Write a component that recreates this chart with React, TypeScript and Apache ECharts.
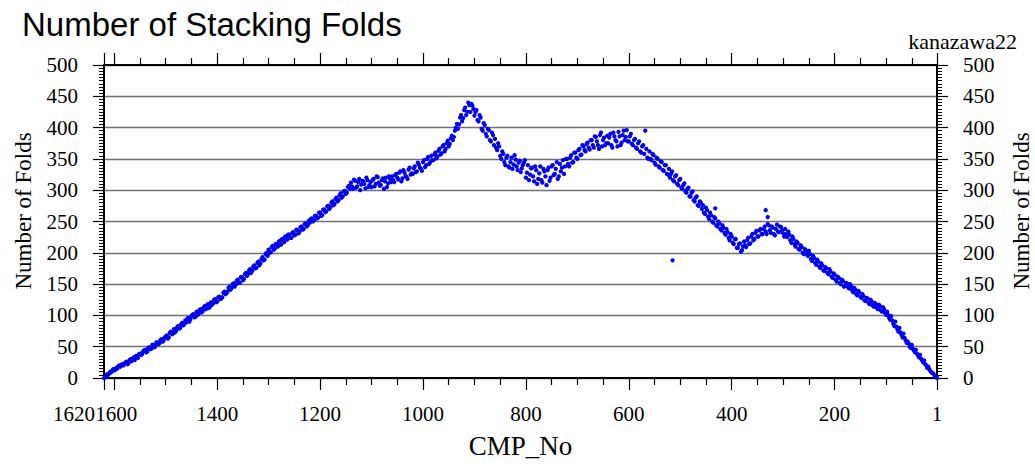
import React, { useEffect, useRef } from "react";
import * as echarts from "echarts";

// ---- data (CMP number -> stacking fold), two interleaved readings ----
const STEP = 4;

const risingStart = 1620;
const risingFolds = [
  0, 3, 5, 10, 12, 12, 16, 19, 18, 22,
  23, 26, 24, 30, 31, 29, 35, 38, 37, 42,
  45, 42, 49, 47, 53, 51, 57, 56, 62, 60,
  66, 63, 72, 70, 78, 75, 83, 80, 88, 86,
  89, 96, 94, 101, 97, 106, 103, 110, 107, 115,
  116, 112, 121, 119, 126, 122, 130, 127, 136, 134,
  138, 146, 144, 151, 149, 157, 152, 161, 158, 168,
  166, 174, 171, 180, 176, 186, 183, 193, 189, 200,
  205, 201, 211, 207, 214, 218, 213, 222, 226, 221,
  229, 224, 233, 229, 236, 234, 242, 238, 247, 244,
  248, 255, 252, 259, 256, 264, 260, 269, 266, 275,
  273, 282, 278, 288, 284, 295, 290, 299, 296, 307,
];
const risingStartB = 1618;
const risingFoldsB = [
  1, 6, 7, 9, 14, 13, 15, 20, 21, 20,
  25, 22, 29, 27, 33, 35, 32, 39, 38, 44,
  41, 48, 46, 53, 49, 57, 54, 61, 58, 65,
  68, 65, 74, 71, 73, 81, 79, 86, 84, 92,
  95, 90, 99, 102, 98, 101, 109, 105, 113, 110,
  118, 114, 117, 125, 121, 129, 126, 129, 138, 135,
  144, 141, 150, 146, 155, 152, 161, 156, 166, 163,
  172, 168, 178, 175, 184, 180, 190, 188, 198, 195,
  200, 209, 205, 214, 210, 219, 222, 217, 226, 229,
  224, 232, 228, 237, 231, 241, 237, 246, 242, 251,
  254, 250, 259, 255, 264, 259, 269, 265, 274, 270,
  280, 276, 286, 282, 292, 288, 298, 294, 305, 302,
];

const peakStart = 1140;
const peakFolds = [
  312, 302, 315, 306, 318, 309, 314, 303, 316, 308,
  305, 318, 310, 321, 307, 316, 302, 320, 311, 318,
  322, 313, 326, 317, 330, 319, 328, 321, 333, 325,
  326, 338, 330, 341, 334, 345, 337, 350, 342, 355,
  348, 360, 354, 366, 359, 372, 366, 379, 374, 387,
  385, 400, 398, 416, 410, 428, 420, 440, 425, 435,
  419, 428, 410, 416, 395, 404, 386, 396, 378, 388,
  382, 364, 370, 350, 358,
];
const peakStartB = 1138;
const peakFoldsB = [
  306, 317, 304, 313, 300, 315, 310, 320, 305, 313,
  316, 306, 322, 312, 308, 319, 314, 305, 322, 313,
  316, 324, 320, 328, 314, 332, 323, 318, 336, 327,
  335, 329, 344, 336, 331, 348, 340, 353, 345, 348,
  357, 351, 363, 357, 370, 362, 375, 370, 383, 380,
  395, 406, 405, 420, 415, 432, 425, 436, 438, 430,
  425, 412, 420, 398, 407, 390, 398, 380, 392, 372,
  368, 375, 355, 362, 345,
];

const middleStart = 840;
const middleFolds = [
  340, 355, 336, 352, 341, 349, 332, 347, 335, 344,
  320, 340, 325, 336, 314, 332, 318, 338, 312, 330,
  308, 336, 320, 340, 326, 345, 322, 330, 348, 338,
  350, 338, 356, 345, 360, 350, 366, 357, 370, 362,
  376, 365, 380, 368, 385, 372, 388, 370, 384, 375,
  375, 390, 368, 386, 378, 393, 372, 388, 380, 396,
  378, 390, 372, 382, 366, 378, 360, 372, 395, 352,
  362, 348, 356, 341, 350, 336, 345, 331, 340, 325,
  320, 330, 314, 324, 308, 318, 302, 311, 296, 304,
  290, 298, 282, 290, 275, 280,
];
const middleStartB = 838;
const middleFoldsB = [
  352, 338, 345, 334, 356, 338, 344, 329, 340, 348,
  328, 316, 335, 322, 338, 310, 327, 316, 334, 322,
  332, 315, 338, 324, 334, 318, 342, 336, 326, 350,
  342, 352, 344, 360, 352, 364, 356, 372, 364, 374,
  368, 380, 372, 386, 378, 366, 392, 380, 372, 387,
  384, 372, 392, 380, 370, 386, 376, 395, 385, 378,
  386, 374, 380, 368, 375, 362, 370, 358, 366, 350,
  350, 358, 344, 352, 338, 346, 332, 340, 326, 334,
  326, 316, 322, 310, 316, 304, 308, 298, 302, 290,
  296, 284, 288, 276, 282, 270,
];

const fallingStart = 456;
const fallingFolds = [
  276, 262, 268, 254, 260, 248, 255, 242, 247, 236,
  240, 229, 233, 220, 226, 214, 222, 208, 215, 204,
  218, 209, 224, 215, 230, 222, 235, 226, 238, 230,
  242, 230, 244, 232, 240, 228, 245, 233, 241, 231,
  238, 225, 229, 216, 222, 210, 216, 205, 209, 198,
  204, 195, 198, 187, 192, 181, 186, 176, 180, 171,
  175, 166, 170, 160, 165, 154, 160, 150, 155, 147,
  151, 143, 146, 137, 141, 132, 137, 128, 131, 123,
  127, 118, 122, 114, 118, 110, 115, 106, 110, 101,
  101, 93, 92, 83, 82, 74, 73, 65, 64, 56,
  55, 48, 47, 41, 39, 33, 31, 25, 22, 16,
  14, 9, 7, 3,
];
const fallingStartB = 454;
const fallingFoldsB = [
  264, 272, 258, 264, 250, 257, 244, 250, 238, 244,
  232, 238, 224, 230, 216, 222, 208, 214, 202, 210,
  212, 220, 214, 226, 220, 232, 226, 236, 230, 238,
  234, 246, 236, 242, 230, 238, 234, 242, 236, 226,
  230, 234, 220, 226, 214, 218, 206, 212, 200, 206,
  198, 203, 190, 195, 184, 189, 178, 183, 172, 177,
  168, 174, 162, 167, 157, 162, 152, 157, 146, 152,
  145, 150, 140, 144, 134, 139, 130, 134, 124, 128,
  120, 125, 116, 120, 112, 117, 108, 113, 104, 106,
  96, 99, 87, 90, 78, 80, 69, 71, 60, 58,
  50, 53, 44, 45, 36, 37, 28, 28, 20, 18,
  11, 8, 4, 2,
];

const extraCmp = [1, 515, 432, 334, 330];
const extraFolds = [0, 188, 271, 268, 257];

const edgeXLabel = [1620];
const majorXLabels = [1600, 1400, 1200, 1000, 800, 600, 400, 200, 1];
const majorXTicks = [1620, 1600, 1400, 1200, 1000, 800, 600, 400, 200, 1];
const minorXTicks = [
  1550, 1500, 1450, 1350, 1300, 1250, 1150, 1100, 1050, 950, 900, 850,
  750, 700, 650, 550, 500, 450, 350, 300, 250, 150, 100, 50,
];

const X_MIN = 1;
const X_MAX = 1620;
const Y_MIN = 0;
const Y_MAX = 500;
const Y_INTERVAL = 50;

const TITLE = "Number of Stacking Folds";
const SUBTITLE = "kanazawa22";
const X_NAME = "CMP_No";
const Y_NAME = "Number of Folds";

const SERIF = "Liberation Serif";
const SANS = "Liberation Sans";

function segment(start: number, values: number[]): number[][] {
  return values.map((v, i) => [start - i * STEP, v]);
}

export default function App() {
  const ref = useRef<HTMLDivElement>(null);

  useEffect(() => {
    document.body.style.margin = "0";
    if (!ref.current) return;
    const chart = echarts.init(ref.current, null, { renderer: "svg" });

    const points = [
      ...segment(risingStart, risingFolds),
      ...segment(risingStartB, risingFoldsB),
      ...segment(peakStart, peakFolds),
      ...segment(peakStartB, peakFoldsB),
      ...segment(middleStart, middleFolds),
      ...segment(middleStartB, middleFoldsB),
      ...segment(fallingStart, fallingFolds),
      ...segment(fallingStartB, fallingFoldsB),
      ...extraCmp.map((c, i) => [c, extraFolds[i]]),
    ];

    const black = "#000";
    const labelFont = {
      fontFamily: SERIF,
      fontSize: 21,
      fontWeight: "normal",
      fontStyle: "normal",
      color: black,
    };
    const xBase = {
      type: "value" as const,
      min: X_MIN,
      max: X_MAX,
      inverse: true,
      gridIndex: 0,
      splitLine: { show: false },
    };

    const option: any = {
      animation: false,
      backgroundColor: "#fff",
      title: [
        {
          text: TITLE,
          left: 17,
          top: 3,
          textStyle: { fontFamily: SANS, fontSize: 33, fontWeight: "normal", color: black },
        },
        {
          text: SUBTITLE,
          right: 13,
          top: 25,
          textStyle: { fontFamily: SERIF, fontSize: 22, fontWeight: "normal", color: black },
        },
      ],
      grid: { left: 104, right: 98, top: 65, bottom: 80, containLabel: false },
      xAxis: [
        {
          ...xBase,
          position: "bottom",
          axisLine: { show: true, lineStyle: { color: black, width: 2 } },
          axisTick: { show: true, customValues: majorXTicks, length: 12, lineStyle: { color: black, width: 1.2 } },
          axisLabel: {
            show: true,
            customValues: majorXLabels,
            margin: 25,
            textStyle: { ...labelFont },
            ...labelFont,
            formatter: (v: number) => (v === 1600 ? `{r|${v}}` : String(v)),
            rich: { r: { ...labelFont, padding: [0, 0, 0, 4] } },
          },
          name: X_NAME,
          nameLocation: "middle",
          nameGap: 54,
          nameTextStyle: { fontFamily: SERIF, fontSize: 27, color: black },
        },
        {
          ...xBase,
          position: "bottom",
          axisLine: { show: false },
          axisTick: { show: true, customValues: minorXTicks, length: 7, lineStyle: { color: black, width: 1.2 } },
          axisLabel: {
            show: true,
            customValues: edgeXLabel,
            margin: 25,
            align: "right",
            textStyle: { ...labelFont },
            ...labelFont,
            formatter: (v: number) => `{l|${v}}`,
            rich: { l: { ...labelFont, padding: [0, 9, 0, 0] } },
          },
        },
        {
          ...xBase,
          position: "top",
          axisLine: { show: true, lineStyle: { color: black, width: 2 } },
          axisTick: { show: true, customValues: majorXTicks, length: 12, lineStyle: { color: black, width: 1.2 } },
          axisLabel: { show: false },
        },
        {
          ...xBase,
          position: "top",
          axisLine: { show: false },
          axisTick: { show: true, customValues: minorXTicks, length: 7, lineStyle: { color: black, width: 1.2 } },
          axisLabel: { show: false },
        },
      ],
      yAxis: [
        {
          type: "value",
          position: "left",
          min: Y_MIN,
          max: Y_MAX,
          interval: Y_INTERVAL,
          axisLine: { show: true, lineStyle: { color: black, width: 2 } },
          axisTick: { show: true, length: 11, lineStyle: { color: black, width: 1.2 } },
          minorTick: { show: true, splitNumber: 10, length: 5, lineStyle: { color: black, width: 1 } },
          splitLine: { show: true, lineStyle: { color: "#707070", width: 1.3 } },
          axisLabel: { margin: 26, textStyle: { ...labelFont }, ...labelFont },
        },
        {
          type: "value",
          position: "right",
          min: Y_MIN,
          max: Y_MAX,
          interval: Y_INTERVAL,
          axisLine: { show: true, lineStyle: { color: black, width: 2 } },
          axisTick: { show: true, length: 11, lineStyle: { color: black, width: 1.2 } },
          minorTick: { show: true, splitNumber: 10, length: 5, lineStyle: { color: black, width: 1 } },
          splitLine: { show: false },
          axisLabel: { margin: 26, textStyle: { ...labelFont }, ...labelFont },
        },
      ],
      graphic: [
        {
          type: "text",
          x: 23,
          y: 211,
          rotation: Math.PI / 2,
          style: {
            text: Y_NAME,
            fontFamily: SERIF,
            fontSize: 23,
            fill: black,
            align: "center",
            verticalAlign: "middle",
          },
        },
        {
          type: "text",
          x: 1021,
          y: 211,
          rotation: Math.PI / 2,
          style: {
            text: Y_NAME,
            fontFamily: SERIF,
            fontSize: 23,
            fill: black,
            align: "center",
            verticalAlign: "middle",
          },
        },
      ],
      series: [
        {
          type: "scatter",
          xAxisIndex: 0,
          yAxisIndex: 0,
          data: points,
          symbol: "circle",
          symbolSize: 4.3,
          itemStyle: { color: "#0000ff", opacity: 1 },
          silent: true,
        },
      ],
    };

    chart.setOption(option);
    return () => chart.dispose();
  }, []);

  return <div ref={ref} style={{ width: 1035, height: 464 }} />;
}
